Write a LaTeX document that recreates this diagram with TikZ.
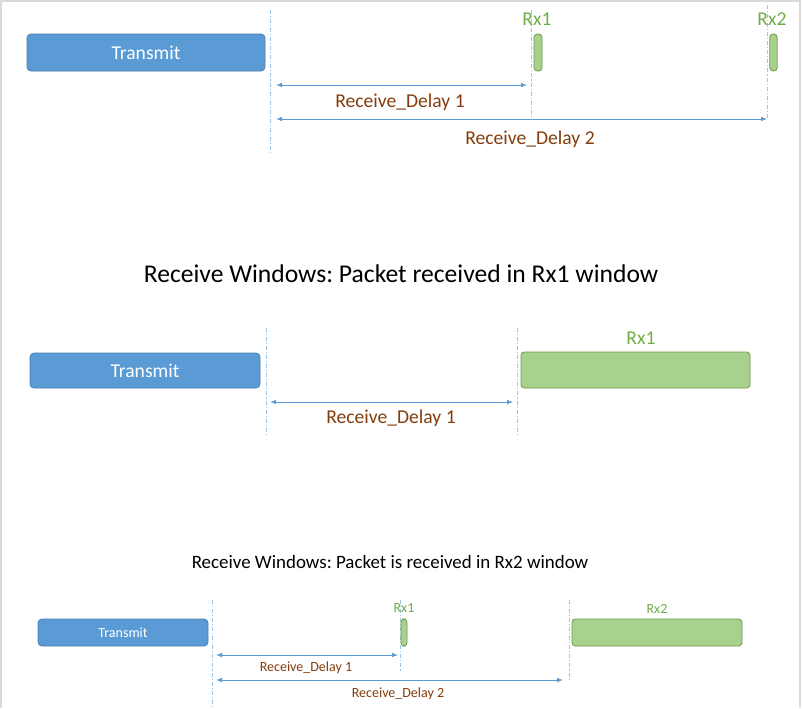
\documentclass[tikz,border=0pt]{standalone}
\usepackage{fontspec}
\setmainfont{Carlito}
\usetikzlibrary{arrows.meta}
\frenchspacing

\definecolor{txblue}{HTML}{5B9BD5}
\definecolor{txedge}{HTML}{4A7EB0}
\definecolor{rxgreen}{HTML}{A9D18E}
\definecolor{rxedge}{HTML}{6A9A48}
\definecolor{rxtext}{HTML}{70AD47}
\definecolor{delaybrown}{HTML}{843C0C}
\definecolor{guide}{HTML}{9DC3E6}
\definecolor{framegrey}{HTML}{DADADA}

\tikzset{
  txbox/.style={draw=txedge, fill=txblue, rounded corners=3pt, text=white, inner sep=0pt, line width=0.6pt},
  rxbox/.style={draw=rxedge, fill=rxgreen, rounded corners=2.5pt, inner sep=0pt, line width=0.6pt},
  rxlabel/.style={text=rxtext, inner sep=0pt},
  delay/.style={text=delaybrown, inner sep=0pt},
  guideline/.style={guide, dash pattern=on 3pt off 1.5pt on 0.8pt off 1.5pt, line width=0.5pt},
  span/.style={txblue, line width=0.6pt, {Latex[length=4.5pt,width=3.5pt]}-{Latex[length=4.5pt,width=3.5pt]}},
  bigtxt/.style={font=\fontsize{14.7}{16}\selectfont},
  smalltxt/.style={font=\fontsize{10.5}{12}\selectfont}
}

\begin{document}
\begin{tikzpicture}[x=0.75pt, y=-0.75pt]
    \useasboundingbox (0,0) rectangle (803,708);
    % screenshot frame
    \draw[framegrey, line width=1.5pt] (1,708) -- (1,0.5) -- (800,0.5) -- (800,708);

    % --- top: the two receive windows ---
    \draw[guideline] (270,10) -- (270,155);
    \draw[guideline] (531,10) -- (531,120);
    \draw[guideline] (767,5) -- (767,118);

    \node[txbox, bigtxt, minimum width=178.5pt, minimum height=27.75pt] (tx1) at (146,52.5) {Transmit};
    \node[rxbox, minimum width=6pt, minimum height=27.75pt] (rx1a) at (538,52.5) {};
    \node[rxbox, minimum width=5.5pt, minimum height=27.75pt] (rx2a) at (773.5,52.5) {};
    \node[rxlabel, bigtxt] (rx1alabel) at (537,19.5) {Rx1};
    \node[rxlabel, bigtxt] (rx2alabel) at (772,19.5) {Rx2};

    \coordinate (d1start) at (276,85);
    \coordinate (d1end) at (527,85);
    \coordinate (d2start) at (276,119);
    \coordinate (d2end) at (767,119);
    \draw[span] (d1start) -- (d1end);
    \draw[span] (d2start) -- (d2end);
    \node[delay, bigtxt] (d1label) at (400,102) {Receive\_Delay 1};
    \node[delay, bigtxt] (d2label) at (530,139) {Receive\_Delay 2};

    % --- middle: packet in Rx1 ---
    \node[font=\fontsize{19.2}{22}\selectfont] (title1) at (401,273.5) {Receive Windows: Packet received in Rx1 window};

    \draw[guideline] (266,328) -- (266,435);
    \draw[guideline] (517,328) -- (517,435);

    \node[txbox, bigtxt, minimum width=172.5pt, minimum height=26.25pt] (tx2) at (145,370.5) {Transmit};
    \node[rxbox, minimum width=171.75pt, minimum height=27pt] (rx1b) at (635.5,370) {};
    \node[rxlabel, bigtxt] (rx1blabel) at (641,338.5) {Rx1};

    \coordinate (e1start) at (270,402);
    \coordinate (e1end) at (513,402);
    \draw[span] (e1start) -- (e1end);
    \node[delay, bigtxt] (e1label) at (391,418) {Receive\_Delay 1};

    % --- bottom: packet in Rx2 ---
    \node[font=\fontsize{14.2}{16}\selectfont] (title2) at (390,561.5) {Receive Windows: Packet is received in Rx2 window};

    \draw[guideline] (212,600) -- (212,708);
    \draw[guideline] (400,600) -- (400,672);
    \draw[guideline] (569,600) -- (569,680);

    \node[txbox, smalltxt, minimum width=127.5pt, minimum height=20.25pt] (tx3) at (123,632.5) {Transmit};
    \node[rxbox, minimum width=4.5pt, minimum height=20.25pt] (rx1c) at (404,632.5) {};
    \node[rxbox, minimum width=127.5pt, minimum height=20.25pt] (rx2c) at (657,632.5) {};
    \node[rxlabel, smalltxt] (rx1clabel) at (404,607.5) {Rx1};
    \node[rxlabel, smalltxt] (rx2clabel) at (657,608.5) {Rx2};

    \coordinate (f1start) at (216,655);
    \coordinate (f1end) at (398,655);
    \coordinate (f2start) at (216,680);
    \coordinate (f2end) at (563,680);
    \draw[span] (f1start) -- (f1end);
    \draw[span] (f2start) -- (f2end);
    \node[delay, smalltxt] (f1label) at (306,667.5) {Receive\_Delay 1};
    \node[delay, smalltxt] (f2label) at (398,693.5) {Receive\_Delay 2};
\end{tikzpicture}
\end{document}
